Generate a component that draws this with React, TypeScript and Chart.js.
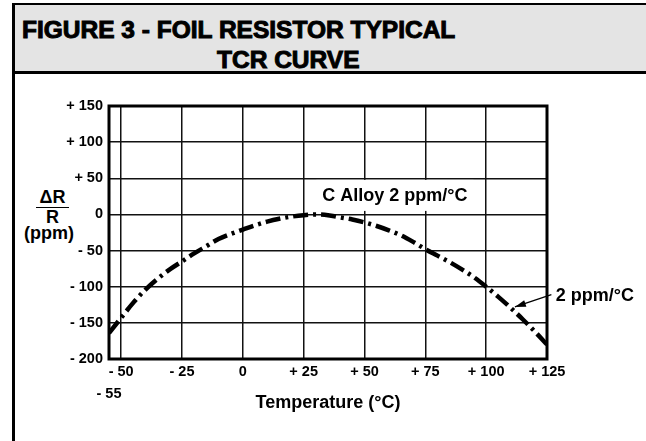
import React, { useEffect, useRef } from 'react';
import { Chart, registerables } from 'chart.js';

Chart.register(...registerables);

// ---- data ----
const temperatures = [
  -55, -50, -45, -40, -35, -30, -25, -20, -15, -10, -5, 0, 5, 10, 15, 20, 25, 30,
  35, 40, 45, 50, 55, 60, 65, 70, 75, 80, 85, 90, 95, 100, 105, 110, 115, 120, 125,
];
const tcrPpm = [
  -164, -143, -122, -104, -89, -76, -65, -54, -44, -34, -27, -21, -15, -10, -6, -3, -1, 0,
  -1, -4, -7, -11, -16, -22, -29, -38, -48, -57, -66, -76, -87, -100, -114, -129, -145, -162, -180,
];
const xTickValues = [-55, -50, -25, 0, 25, 50, 75, 100, 125];
const yTickValues = [-200, -150, -100, -50, 0, 50, 100, 150];

const curveLabel = 'C Alloy 2 ppm/°C';
const arrowLabel = '2 ppm/°C';

const FONT = '"Liberation Sans", Arial, Helvetica, sans-serif';

const fmt = (v: number) => (v > 0 ? `+ ${v}` : v < 0 ? `- ${-v}` : '0');

const framePlugin = {
  id: 'frameAndNotes',
  beforeDatasetsDraw(chart: any) {
    const { ctx, chartArea: a, scales } = chart;
    const x = scales.x;
    const y = scales.y;
    ctx.save();
    // label box over the grid
    ctx.font = `bold 18px ${FONT}`;
    const cx = x.getPixelForValue(62.5);
    const cy = y.getPixelForValue(27);
    const w = ctx.measureText(curveLabel).width + 12;
    ctx.fillStyle = '#ffffff';
    ctx.fillRect(cx - w / 2, cy - 15, w, 31);
    ctx.fillStyle = '#000';
    ctx.textAlign = 'center';
    ctx.textBaseline = 'middle';
    ctx.fillText(curveLabel, cx, cy + 1);
    // plot frame
    ctx.lineWidth = 3;
    ctx.strokeStyle = '#000';
    ctx.strokeRect(a.left, a.top, a.right - a.left, a.bottom - a.top);
    ctx.restore();
  },
  afterDatasetsDraw(chart: any) {
    const { ctx, scales } = chart;
    const x = scales.x;
    const y = scales.y;
    ctx.save();
    const tx = x.getPixelForValue(111.8);
    const ty = y.getPixelForValue(-128);
    const sx = x.getPixelForValue(126.8);
    const sy = y.getPixelForValue(-111);
    ctx.strokeStyle = '#000';
    ctx.fillStyle = '#000';
    ctx.lineWidth = 1.3;
    ctx.beginPath();
    ctx.moveTo(sx, sy);
    ctx.lineTo(tx, ty);
    ctx.stroke();
    const ang = Math.atan2(ty - sy, tx - sx);
    const L = 11;
    const W = 3.5;
    ctx.beginPath();
    ctx.moveTo(tx, ty);
    ctx.lineTo(tx - L * Math.cos(ang) + W * Math.sin(ang), ty - L * Math.sin(ang) - W * Math.cos(ang));
    ctx.lineTo(tx - L * Math.cos(ang) - W * Math.sin(ang), ty - L * Math.sin(ang) + W * Math.cos(ang));
    ctx.closePath();
    ctx.fill();
    ctx.font = `bold 18px ${FONT}`;
    ctx.textAlign = 'left';
    ctx.textBaseline = 'middle';
    ctx.fillText(arrowLabel, x.getPixelForValue(128.6), y.getPixelForValue(-113));
    ctx.restore();
  },
};

export default function App() {
  const ref = useRef<HTMLCanvasElement | null>(null);

  useEffect(() => {
    if (!ref.current) return;
    const chart = new Chart(ref.current, {
      type: 'line',
      data: {
        datasets: [
          {
            data: temperatures.map((t, i) => ({ x: t, y: tcrPpm[i] })),
            borderColor: '#000',
            borderWidth: 4.5,
            borderDash: [15, 5, 3, 5],
            borderCapStyle: 'butt',
            pointRadius: 0,
            fill: false,
            cubicInterpolationMode: 'monotone',
          },
        ],
      },
      options: {
        animation: false,
        responsive: false,
        maintainAspectRatio: false,
        layout: { padding: { top: 106, right: 99, left: 0, bottom: 0 } },
        plugins: { legend: { display: false }, tooltip: { enabled: false }, title: { display: false } },
        scales: {
          x: {
            type: 'linear',
            min: -55,
            max: 125,
            afterBuildTicks: (s: any) => {
              s.ticks = xTickValues.map((v) => ({ value: v }));
            },
            afterFit: (s: any) => {
              s.height = 82;
            },
            grid: { color: '#111', lineWidth: 1.5, drawTicks: false },
            border: { display: false },
            ticks: {
              autoSkip: false,
              maxRotation: 0,
              padding: 2.5,
              color: '#000',
              font: { family: FONT, size: 14.5, weight: 'bold', lineHeight: '21.5px' },
              callback: (v: any) => (Number(v) === -55 ? ['', '- 55'] : fmt(Number(v))),
            },
            title: {
              display: true,
              text: 'Temperature (°C)',
              color: '#000',
              font: { family: FONT, size: 18, weight: 'bold', lineHeight: 1.2 },
              padding: { top: 0, bottom: 27 },
            },
          },
          y: {
            type: 'linear',
            min: -200,
            max: 150,
            afterBuildTicks: (s: any) => {
              s.ticks = yTickValues.map((v) => ({ value: v }));
            },
            afterFit: (s: any) => {
              s.width = 109;
            },
            grid: { color: '#111', lineWidth: 1.5, drawTicks: false },
            border: { display: false },
            ticks: {
              padding: 6,
              color: '#000',
              font: { family: FONT, size: 14.5, weight: 'bold' },
              callback: (v: any) => fmt(Number(v)),
            },
          },
        },
      },
      plugins: [framePlugin],
    } as any);
    return () => chart.destroy();
  }, []);

  const txt: React.CSSProperties = {
    position: 'absolute',
    fontFamily: FONT,
    fontWeight: 'bold',
    color: '#000',
    whiteSpace: 'nowrap',
  };

  return (
    <div style={{ position: 'fixed', left: 0, top: 0, width: 646, height: 441, background: '#fff', overflow: 'hidden' }}>
      {/* header */}
      <div
        style={{
          position: 'absolute',
          left: 12,
          top: 3,
          width: 634,
          height: 66,
          background: '#e4e4e4',
          borderTop: '2px solid #000',
          borderBottom: '3px solid #000',
        }}
      />
      <div style={{ position: 'absolute', left: 12, top: 3, width: 2.5, height: 438, background: '#000' }} />
      <div style={{ ...txt, left: 22, top: 17, fontSize: 24.5, lineHeight: '26px', WebkitTextStroke: '1px #000' }}>
        FIGURE 3 - FOIL RESISTOR TYPICAL
      </div>
      <div style={{ ...txt, left: 217, top: 47, fontSize: 24.5, lineHeight: '26px', WebkitTextStroke: '1px #000' }}>
        TCR CURVE
      </div>
      {/* y axis label */}
      <div style={{ ...txt, left: 36, top: 187, width: 33, fontSize: 18, lineHeight: '20px', textAlign: 'center', borderBottom: '1.5px solid #000' }}>
        ΔR
      </div>
      <div style={{ ...txt, left: 36, top: 207, width: 33, fontSize: 18, lineHeight: '20px', textAlign: 'center' }}>R</div>
      <div style={{ ...txt, left: 24, top: 223, fontSize: 18, lineHeight: '20px' }}>(ppm)</div>
      <canvas ref={ref} width={646} height={441} style={{ position: 'absolute', left: 0, top: 0, width: 646, height: 441 }} />
    </div>
  );
}
